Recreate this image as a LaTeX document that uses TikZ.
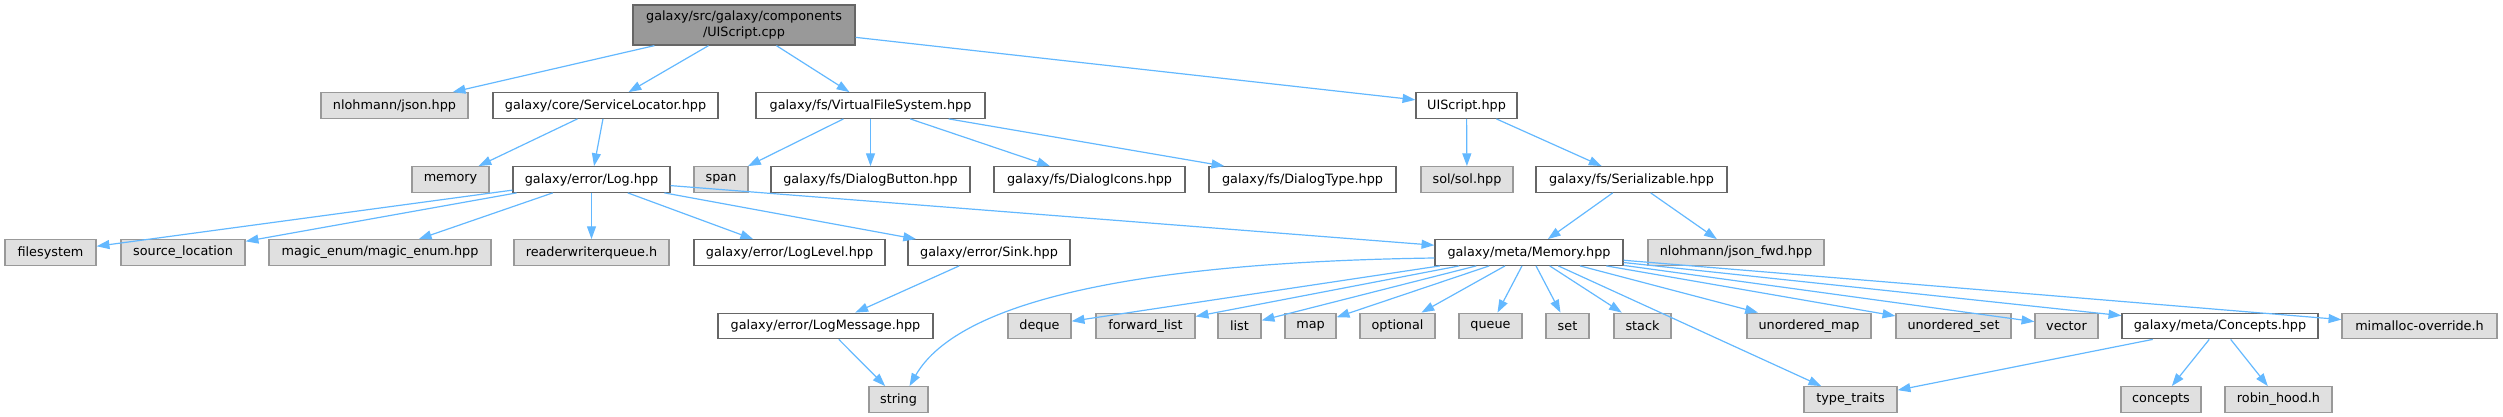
\documentclass[tikz,border=0pt]{standalone}
\usepackage{fontspec}
\setmainfont{DejaVu Sans}
\usetikzlibrary{arrows.meta,calc}
\definecolor{edgec}{HTML}{63B8FF}
\definecolor{bordi}{HTML}{666666}
\definecolor{borde}{HTML}{999999}
\definecolor{fille}{HTML}{E0E0E0}
\definecolor{filltop}{HTML}{999999}
\begin{document}
\begin{tikzpicture}[x=1pt,y=-1pt,
  base/.style={inner sep=0pt, minimum height=25.5pt, line width=1.3pt,
    font=\fontsize{12.8}{15.5}\selectfont, text=black},
  ibox/.style={base, draw=bordi, fill=white},
  ebox/.style={base, draw=borde, fill=fille},
  tbox/.style={base, draw=bordi, fill=filltop, align=center, minimum height=40pt},
  edge/.style={draw=edgec, line width=1.2pt, -{Triangle[length=12.8pt,width=9pt]}}]
\useasboundingbox (0,0) rectangle (2503,417);
% row 0
\node[tbox, minimum width=222pt] (top) at (744,25) {galaxy/src/galaxy/components\\/UIScript.cpp};
% row 1
\node[ebox, minimum width=147pt] (json) at (394.5,105.5) {nlohmann/json.hpp};
\node[ibox, minimum width=225pt] (servloc) at (605.5,105.5) {galaxy/core/ServiceLocator.hpp};
\node[ibox, minimum width=229pt] (vfs) at (870.5,105.5) {galaxy/fs/VirtualFileSystem.hpp};
\node[ibox, minimum width=101pt] (uish) at (1466.5,105.5) {UIScript.hpp};
% row 2
\node[ebox, minimum width=77pt] (memory) at (450.5,179.5) {memory};
\node[ibox, minimum width=157pt] (log) at (591.5,179.5) {galaxy/error/Log.hpp};
\node[ebox, minimum width=54pt] (span) at (721,179.5) {span};
\node[ibox, minimum width=199pt] (dbutton) at (870.5,179.5) {galaxy/fs/DialogButton.hpp};
\node[ibox, minimum width=191pt] (dicons) at (1089.5,179.5) {galaxy/fs/DialogIcons.hpp};
\node[ibox, minimum width=187pt] (dtype) at (1302.5,179.5) {galaxy/fs/DialogType.hpp};
\node[ebox, minimum width=92pt] (sol) at (1467,179.5) {sol/sol.hpp};
\node[ibox, minimum width=191pt] (serial) at (1631.5,179.5) {galaxy/fs/Serializable.hpp};
% row 3
\node[ebox, minimum width=91pt] (fsys) at (50.5,252.5) {filesystem};
\node[ebox, minimum width=124pt] (srcloc) at (183,252.5) {source\_location};
\node[ebox, minimum width=222pt] (magic) at (380,252.5) {magic\_enum/magic\_enum.hpp};
\node[ebox, minimum width=155pt] (rwq) at (591.5,252.5) {readerwriterqueue.h};
\node[ibox, minimum width=191pt] (loglevel) at (789.5,252.5) {galaxy/error/LogLevel.hpp};
\node[ibox, minimum width=162pt] (sink) at (989,252.5) {galaxy/error/Sink.hpp};
\node[ibox, minimum width=188pt] (memh) at (1529,252.5) {galaxy/meta/Memory.hpp};
\node[ebox, minimum width=176pt] (jsonfwd) at (1736,252.5) {nlohmann/json\_fwd.hpp};
% row 4
\node[ibox, minimum width=215pt] (logmsg) at (825.5,326) {galaxy/error/LogMessage.hpp};
\node[ebox, minimum width=63pt] (deque) at (1039.5,326) {deque};
\node[ebox, minimum width=99pt] (flist) at (1145.5,326) {forward\_list};
\node[ebox, minimum width=43pt] (list) at (1239.5,326) {list};
\node[ebox, minimum width=51pt] (map) at (1310.5,326) {map};
\node[ebox, minimum width=75pt] (optional) at (1397.5,326) {optional};
\node[ebox, minimum width=63pt] (queue) at (1490.5,326) {queue};
\node[ebox, minimum width=43pt] (set) at (1567.5,326) {set};
\node[ebox, minimum width=57pt] (stack) at (1642.5,326) {stack};
\node[ebox, minimum width=124pt] (umap) at (1809,326) {unordered\_map};
\node[ebox, minimum width=115pt] (uset) at (1953.5,326) {unordered\_set};
\node[ebox, minimum width=63pt] (vector) at (2066.5,326) {vector};
\node[ibox, minimum width=196pt] (conh) at (2220,326) {galaxy/meta/Concepts.hpp};
\node[ebox, minimum width=155pt] (mimalloc) at (2419.5,326) {mimalloc-override.h};
% row 5
\node[ebox, minimum width=59pt] (string) at (898.5,399.5) {string};
\node[ebox, minimum width=93pt] (ttraits) at (1850.5,399.5) {type\_traits};
\node[ebox, minimum width=80pt] (concepts) at (2161,399.5) {concepts};
\node[ebox, minimum width=107pt] (robin) at (2278.5,399.5) {robin\_hood.h};
% edges
\foreach \a/\b in {top/json, top/servloc, top/vfs, top/uish,
  servloc/memory, servloc/log,
  vfs/span, vfs/dbutton, vfs/dicons, vfs/dtype,
  uish/sol, uish/serial,
  log/fsys, log/srcloc, log/magic, log/rwq, log/loglevel, log/sink, log/memh,
  sink/logmsg, logmsg/string,
  serial/memh, serial/jsonfwd,
  memh/deque, memh/flist, memh/list, memh/map, memh/optional, memh/queue,
  memh/set, memh/stack, memh/umap, memh/uset, memh/vector, memh/conh,
  memh/mimalloc, memh/ttraits,
  conh/ttraits, conh/concepts, conh/robin}
  \draw[edge] (\a) -- (\b);
\draw[edge] ($(memh.west)+(0,5.5)$) .. controls (1150,262) and (960,298) .. ($(string.north)+(11,0)$);
\end{tikzpicture}
\end{document}
